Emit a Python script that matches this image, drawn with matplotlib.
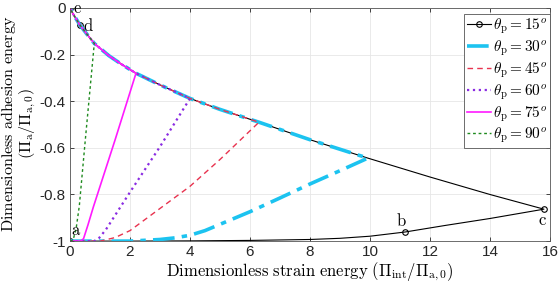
import numpy as np
import matplotlib
matplotlib.use("Agg")
import matplotlib.pyplot as plt

plt.rcParams['mathtext.fontset'] = 'cm'
plt.rcParams['axes.unicode_minus'] = False
plt.rcParams['font.family'] = ['Liberation Sans', 'DejaVu Sans']

# Upper envelope (from c back to e)
env_x = [15.8, 14.0, 12.0, 9.93, 8.0, 6.3, 5.0, 4.0, 3.0, 2.2, 1.7, 1.3, 0.81, 0.55, 0.33, 0.1, 0.0]
env_y = [-0.863, -0.80, -0.725, -0.644, -0.565, -0.49, -0.435, -0.388, -0.33, -0.28, -0.24, -0.205,
         -0.152, -0.11, -0.073, -0.025, 0.0]

# Lower branches (from a to the envelope)
b15_x = [0, 2, 4, 6, 8, 9, 10, 11.17, 12.5, 14, 15.8]
b15_y = [-1, -1, -0.999, -0.997, -0.993, -0.988, -0.979, -0.961, -0.933, -0.903, -0.863]
b30_x = [0, 2.0, 3.0, 3.5, 4.0, 4.5, 5.0, 6.0, 7.0, 8.0, 9.0, 9.93]
b30_y = [-1, -1, -0.993, -0.986, -0.975, -0.955, -0.928, -0.874, -0.815, -0.755, -0.698, -0.644]
b45_x = [0, 1.0, 1.5, 2.0, 3.0, 4.0, 5.0, 6.3]
b45_y = [-1, -1, -0.985, -0.955, -0.86, -0.765, -0.65, -0.49]
b60_x = [0, 0.8, 0.95, 1.2, 2.0, 3.0, 4.0]
b60_y = [-1, -1, -0.99, -0.95, -0.79, -0.595, -0.388]
b75_x = [0, 0.35, 0.45, 0.6, 0.78, 1.5, 2.2]
b75_y = [-1, -1, -0.99, -0.93, -0.853, -0.567, -0.28]
b90_x = [0, 0.1, 0.2, 0.31, 0.51, 0.81]
b90_y = [-1, -0.996, -0.95, -0.85, -0.566, -0.152]

angles = [15, 30, 45, 60, 75, 90]
branches = [(b15_x, b15_y), (b30_x, b30_y), (b45_x, b45_y), (b60_x, b60_y), (b75_x, b75_y), (b90_x, b90_y)]
colors = ['black', '#1cc3f0', '#e8334f', '#8a2be2', '#ff1aff', '#1e8a1e']
styles = ['-', (0, (6, 2, 1.5, 2)), (0, (4, 3)), ':', '-', (0, (2, 2))]
widths = [0.8, 2.6, 1.0, 1.6, 1.2, 1.0]

ylabel_lines = [r'$\mathrm{Dimensionless\ adhesion\ energy}$', r'$\mathrm{(\Pi_a/\Pi_{a,0})}$']
xlabel_text = r'$\mathrm{Dimensionless\ strain\ energy\ (\Pi_{int}/\Pi_{a,0})}$'

fig = plt.figure(figsize=(5.6, 2.85), dpi=100)
ax = fig.add_axes([0.125, 0.154, 0.857, 0.818])

for ang, (bx, by), c, ls, lw in zip(angles, branches, colors, styles, widths):
    xe = bx[-1]
    ex = [x for x in env_x if x < xe - 1e-9]
    ey = [y for x, y in zip(env_x, env_y) if x < xe - 1e-9]
    xs = list(bx) + ex
    ys = list(by) + ey
    kw = {}
    if ang == 15:
        idx = [0, bx.index(11.17), len(bx) - 1, len(bx) + ex.index(0.33), len(xs) - 1]
        kw = dict(marker='o', markevery=idx, markersize=4, markerfacecolor='none',
                  markeredgecolor='black', markeredgewidth=0.8)
    ax.plot(xs, ys, color=c, ls=ls, lw=lw, label=r'$\theta_{\mathrm{p}} = %d^o$' % ang, **kw)

ax.text(0.05, -0.985, r'$\mathrm{a}$', ha='left', va='bottom', fontsize=12)
ax.text(11.05, -0.948, r'$\mathrm{b}$', ha='center', va='bottom', fontsize=12)
ax.text(15.75, -0.88, r'$\mathrm{c}$', ha='center', va='top', fontsize=12)
ax.text(0.42, -0.075, r'$\mathrm{d}$', ha='left', va='center', fontsize=12)
ax.text(0.1, -0.002, r'$\mathrm{e}$', ha='left', va='center', fontsize=12, clip_on=False)

ax.set_xlim(0, 16)
ax.set_ylim(-1, 0)
ax.set_xticks([0, 2, 4, 6, 8, 10, 12, 14, 16])
ax.set_yticks([-1, -0.8, -0.6, -0.4, -0.2, 0])
ax.set_yticklabels(['-1', '-0.8', '-0.6', '-0.4', '-0.2', '0'])
ax.tick_params(direction='in', length=3, width=0.6, labelsize=11, colors='#262626',
               top=True, right=True, pad=3)
for s in ax.spines.values():
    s.set_color('#555555')
    s.set_linewidth(0.6)
ax.grid(True, color='#e6e6e6', lw=0.6)
ax.set_axisbelow(True)

ax.set_xlabel(xlabel_text, fontsize=12, labelpad=1)
fig.text(9 / 560, 1 - 124 / 285, ylabel_lines[0], rotation=90, ha='center', va='center', fontsize=11.6)
fig.text(28 / 560, 1 - 124 / 285, ylabel_lines[1], rotation=90, ha='center', va='center', fontsize=11.6)

leg = ax.legend(loc='upper right', bbox_to_anchor=(1.0, 0.975), fontsize=11, handlelength=1.6,
                handletextpad=0.1, labelspacing=0.15, borderpad=0.2, borderaxespad=0.0,
                fancybox=False, framealpha=1, edgecolor='#555555')
leg.get_frame().set_linewidth(0.6)

fig.savefig('out.png', dpi=100)
